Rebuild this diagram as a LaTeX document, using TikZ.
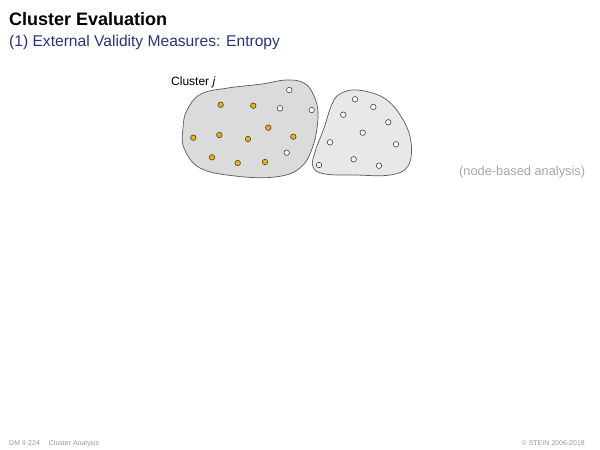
\documentclass[tikz,border=0pt]{standalone}
\usepackage{fontspec}
\setmainfont{Liberation Sans}
\definecolor{titleblue}{HTML}{27337F}
\definecolor{dotyellow}{HTML}{F0B400}
\definecolor{blobline}{HTML}{5A5A5A}
\tikzset{
  txt/.style={inner sep=0pt, anchor=base west},
  blob/.style={draw=blobline, line width=0.7pt},
  ydot/.style={circle, draw=black!75, fill=dotyellow, line width=0.6pt, minimum size=5.5pt, inner sep=0pt},
  wdot/.style={circle, draw=black!75, fill=white, line width=0.6pt, minimum size=5.5pt, inner sep=0pt},
}
\begin{document}
\begin{tikzpicture}[x=1pt,y=-1pt]
\useasboundingbox (0,0) rectangle (600,450);
\node[txt, font=\bfseries\fontsize{18}{20}\selectfont] (title) at (9,25) {Cluster Evaluation};
\node[txt, font=\fontsize{15.6}{18}\selectfont, text=titleblue] (sub) at (9,46) {(1) External Validity Measures: Entropy};

% left cluster
\draw[blob, fill=black!14] plot[smooth cycle, tension=0.65] coordinates {
 (187,110) (201,94) (228,88) (262,84) (286,80) (304,83) (314,96) (318,116)
 (313,146) (300,168) (275,177) (235,176) (200,168) (184,148) (183,128)};
% right cluster
\draw[blob, fill=black!9] plot[smooth cycle, tension=0.65] coordinates {
 (340,94) (357,90) (384,98) (402,118) (411,142) (408,166) (390,175) (355,175)
 (325,174) (313,167) (315,152) (324,128) (332,104)};

\node[txt, font=\fontsize{12}{14}\selectfont] (lbl) at (171,85) {Cluster \textit{j}};

% left dots
\foreach \x/\y [count=\i] in {220.7/104.7, 253.3/105.7, 268.3/127.7, 193.3/137.7, 219.3/135, 248/139, 293.3/136.7, 212/157.3, 237.7/163, 265/162}
  \node[ydot] (y\i) at (\x,\y) {};
\foreach \x/\y [count=\i] in {289.3/90, 280/108.3, 311.7/110, 286.7/152.7}
  \node[wdot] (w\i) at (\x,\y) {};
% right dots
\foreach \x/\y [count=\i] in {355/99.3, 373.3/107, 343.3/114.7, 388.3/122.3, 362.7/132.7, 330/142.3, 396/144.3, 319/165, 353.7/159.3, 379/165.7}
  \node[wdot] (r\i) at (\x,\y) {};

\node[txt, font=\fontsize{12.8}{14}\selectfont, text=black!35] (note) at (459,175) {(node-based analysis)};

\node[txt, font=\fontsize{7}{8}\selectfont, text=black!40] (foot1) at (9,445) {DM II-224\hspace{9pt}Cluster Analysis};
\node[inner sep=0pt, anchor=base east, font=\fontsize{7}{8}\selectfont, text=black!40] (foot2) at (585,445) {\textcopyright\ STEIN 2006-2018};
\end{tikzpicture}
\end{document}
